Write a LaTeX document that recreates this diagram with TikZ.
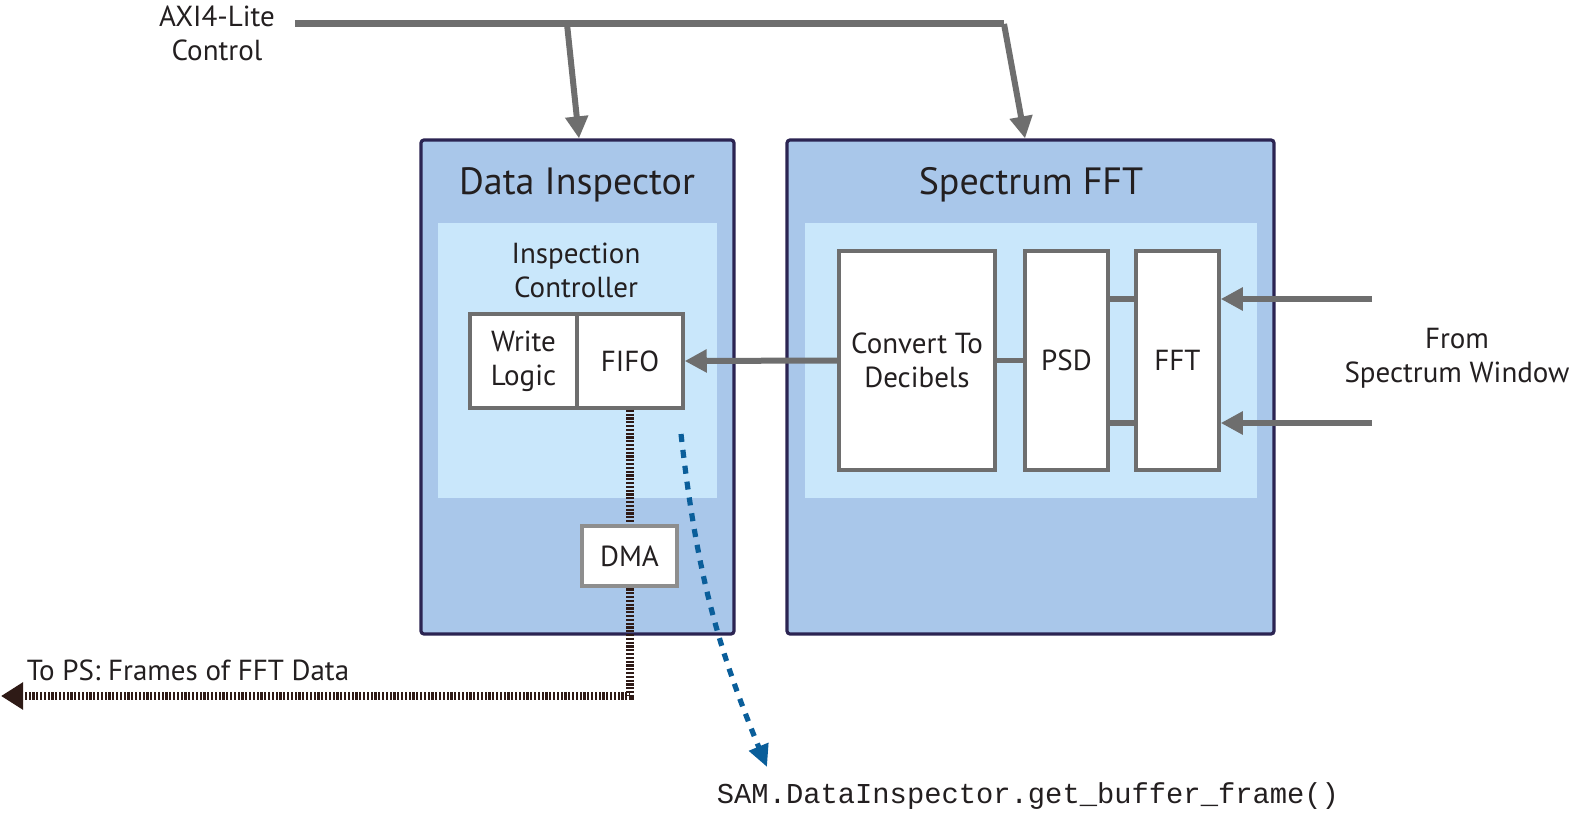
\documentclass[tikz,border=0pt]{standalone}
\usepackage{fontspec}
\setmainfont{PT Sans}
\setmonofont{Liberation Mono}
\usetikzlibrary{arrows.meta}
\definecolor{ccfonce}{HTML}{A9C7EA}
\definecolor{ccclair}{HTML}{C9E7FB}
\definecolor{cccadre}{HTML}{2B2452}
\definecolor{ccgris}{HTML}{6E6E6E}
\definecolor{ccgrisdma}{HTML}{8E8E8E}
\definecolor{ccbrun}{HTML}{2E1A16}
\definecolor{ccbleu}{HTML}{0A5E9A}
\definecolor{cctexte}{HTML}{231F20}

\begin{document}
\begin{tikzpicture}[x=0.5pt, y=-0.5pt, text=cctexte]

  % Styles
  \tikzstyle{bloc} = [draw=cccadre, line width=1.6pt, rounded corners=1.5pt, fill=ccfonce, minimum height=247pt]
  \tikzstyle{zone} = [fill=ccclair, minimum height=137.5pt]
  \tikzstyle{boite} = [draw=ccgris, line width=1.75pt, fill=white, align=center, font=\fontsize{14.5}{17}\selectfont]
  \tikzstyle{fleche} = [-{Triangle[length=11pt, width=11pt]}, ccgris, line width=3pt]
  \tikzstyle{lien} = [ccgris, line width=2.6pt]
  \tikzstyle{donnees} = [-{Triangle[length=11pt, width=13pt]}, ccbrun, line width=4pt, dash pattern=on 1.1pt off 0.8pt]
  \tikzstyle{pointille} = [-{Triangle[length=11pt, width=10pt]}, ccbleu, line width=2.6pt, dash pattern=on 4pt off 4pt]
  \tikzstyle{titre} = [font=\fontsize{19}{22}\selectfont]
  \tikzstyle{etiquette} = [align=center, font=\fontsize{14.5}{17}\selectfont]

  \useasboundingbox (0,0) rectangle (1572,823);

  % Les deux blocs
  \node[bloc, minimum width=156.5pt] (di) at (577.5,387) {};
  \node[zone, minimum width=139.5pt] (dizone) at (577.5,360.5) {};
  \node[bloc, minimum width=243.5pt] (sf) at (1030.5,387) {};
  \node[zone, minimum width=226pt] (sfzone) at (1031,360.5) {};

  \node[titre] (dititre) at (577,185) {Data Inspector};
  \node[titre] (sftitre) at (1031,185) {Spectrum FFT};
  \node[etiquette] (ctrl) at (576,270) {Inspection\\Controller};

  % Boites internes
  \node[boite, minimum width=53.5pt, minimum height=47pt] (write) at (523.5,361) {Write\\Logic};
  \node[boite, minimum width=53pt, minimum height=47pt] (fifo) at (630,361) {FIFO};
  \node[boite, minimum width=78pt, minimum height=109.5pt] (conv) at (917,360.5) {Convert To\\Decibels};
  \node[boite, minimum width=41.5pt, minimum height=109.5pt] (psd) at (1066.5,360.5) {PSD};
  \node[boite, minimum width=41.5pt, minimum height=109.5pt] (fft) at (1177.5,360.5) {FFT};

  % Sortie vers le PS
  \coordinate (tops) at (1,696);
  \draw[donnees] (fifo.south) -- (fifo.south |- tops) -- (tops);
  \node[boite, draw=ccgrisdma, line width=2pt, minimum width=47.5pt, minimum height=30pt] (dma) at (629.5,556) {DMA};
  \node[etiquette] (topslabel) at (188,670) {To PS: Frames of FFT Data};

  % Chaine du spectre
  \coordinate (sw1) at (1372,299);
  \coordinate (sw2) at (1372,423);
  \draw[fleche] (conv.west) -- (fifo.east);
  \draw[lien] (conv.east) -- (psd.west);
  \draw[lien] (psd.east |- sw1) -- (fft.west |- sw1);
  \draw[lien] (psd.east |- sw2) -- (fft.west |- sw2);
  \draw[fleche] (sw1) -- (sw1 -| fft.east);
  \draw[fleche] (sw2) -- (sw2 -| fft.east);
  \node[etiquette] (swlabel) at (1457,358) {From\\Spectrum Window};

  % Bus AXI4-Lite
  \coordinate (axi) at (295,24);
  \coordinate (axi1) at (567,24);
  \coordinate (axi2) at (1004,24);
  \draw[lien, line width=3.5pt] (axi) -- (axi2);
  \draw[fleche] (axi1) -- ([xshift=0.75pt]di.north);
  \draw[fleche] (axi2) -- ([xshift=-2.75pt]sf.north);
  \node[etiquette] (axilabel) at (217,33) {AXI4-Lite\\Control};

  % Appel logiciel
  \coordinate (insp) at (681,434);
  \coordinate (appel) at (767,767);
  \draw[pointille] (insp) to[bend right=8] (appel);
  \node[font=\ttfamily\fontsize{14.4}{17}\selectfont] (appellabel) at (1028,796) {SAM.DataInspector.get\_buffer\_frame()};

\end{tikzpicture}
\end{document}
